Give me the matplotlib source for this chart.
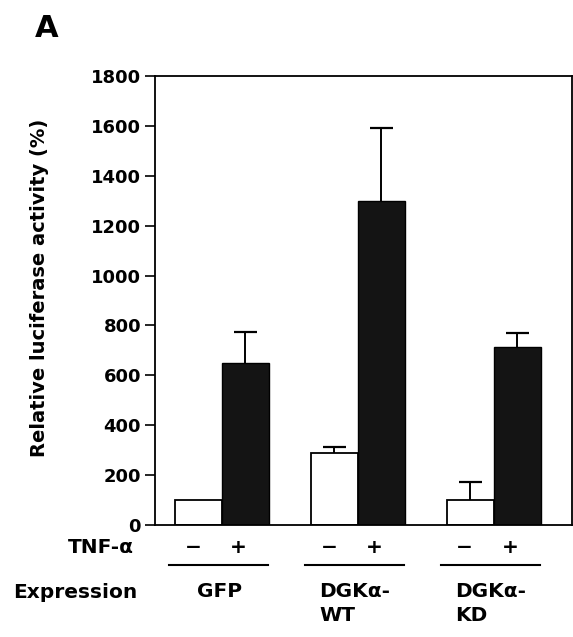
import matplotlib
matplotlib.use('Agg')
import matplotlib.pyplot as plt
import numpy as np

# values
groups = ['GFP', 'DGK\u03b1-\nWT', 'DGK\u03b1-\nKD']
minus_vals = [100, 289, 100]
minus_err = [0, 23, 72]
plus_vals = [650, 1300, 712]
plus_err = [124, 293, 56]
yticks = [0, 200, 400, 600, 800, 1000, 1200, 1400, 1600, 1800]

plt.rcParams['font.family'] = 'DejaVu Sans'
plt.rcParams['font.weight'] = 'bold'

fig = plt.figure(figsize=(5.73, 6.37), dpi=100)
ax = fig.add_axes([0.2705, 0.1758, 0.7277, 0.7049])

x = np.arange(len(groups))
w = 0.346
cap = 0.085
ax.bar(x - w/2, minus_vals, w, color='white', edgecolor='black', linewidth=1.3)
ax.bar(x + w/2, plus_vals, w, color='#141414', edgecolor='black', linewidth=1.0)

# upper-only error bars
for xs, vals, errs in [(x - w/2, minus_vals, minus_err), (x + w/2, plus_vals, plus_err)]:
    for xi, v, e in zip(xs, vals, errs):
        if e <= 0:
            continue
        ax.vlines(xi, v, v + e, color='black', lw=1.4)
        ax.hlines(v + e, xi - cap, xi + cap, color='black', lw=1.6)

ax.set_xlim(-0.493, 2.577)
ax.set_ylim(0, 1800)
ax.set_yticks(yticks)
ax.set_yticklabels([str(v) for v in yticks], fontsize=13, fontweight='bold')
ax.set_xticks([])
ax.tick_params(axis='y', direction='out', length=7, width=1.2, pad=3)
for s in ax.spines.values():
    s.set_linewidth(1.3)

tr = ax.get_xaxis_transform()
ax.text(-0.645, -0.051, 'TNF-\u03b1', transform=tr, ha='right', va='center',
        fontsize=14.5, fontweight='bold')
for i in range(len(groups)):
    ax.text(x[i] - w/2 - 0.04, -0.051, '\u2212', transform=tr, ha='center',
            va='center', fontsize=14.5, fontweight='bold')
    ax.text(x[i] + w/2 - 0.05, -0.051, '+', transform=tr, ha='center',
            va='center', fontsize=14.5, fontweight='bold')
    ax.plot([x[i] - 0.39, x[i] + 0.34], [-0.089, -0.089], transform=tr,
            color='black', lw=1.5, clip_on=False)
    ax.text(x[i] - 0.02, -0.128, groups[i], transform=tr, ha='center', va='top',
            multialignment='left', fontsize=14.5, fontweight='bold',
            linespacing=1.3)
ax.text(-0.62, -0.151, 'Expression', transform=tr, ha='right', va='center',
        fontsize=14.5, fontweight='bold')

fig.text(40/573, 1 - 288/637, 'Relative luciferase activity (%)', rotation=90,
         ha='center', va='center', fontsize=14, fontweight='bold')
fig.text(0.06, 0.978, 'A', ha='left', va='top', fontsize=22, fontweight='bold')

fig.savefig('out.png', dpi=100)
